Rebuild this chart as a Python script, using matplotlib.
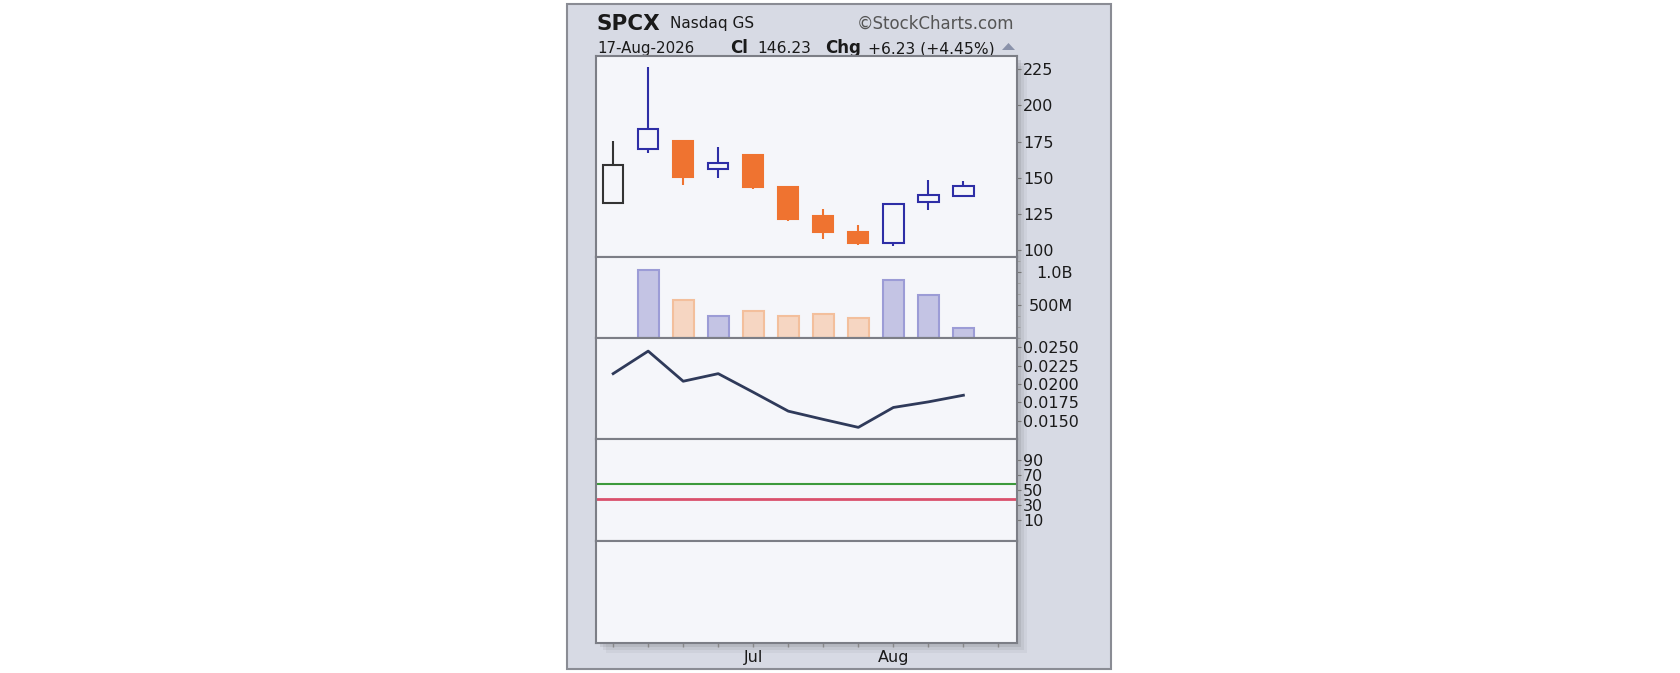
import numpy as np
import matplotlib
matplotlib.use('Agg')
import matplotlib.pyplot as plt
from matplotlib.patches import Rectangle, Polygon
from matplotlib.ticker import FixedLocator, MultipleLocator

plt.rcParams['font.family'] = ['DejaVu Sans']

# weekly candles, week of 8-Jun-2026 .. 17-Aug-2026
week_labels = ['', '', '', '', 'Jul', '', '', '', 'Aug', '', '', '']
opens = [132.8, 169.7, 175.6, 156.0, 165.5, 143.4, 123.5, 112.3, 104.7, 133.0, 137.4]
closes = [158.8, 183.7, 150.7, 160.4, 143.8, 121.5, 112.7, 105.1, 131.8, 138.1, 144.3]
highs = [175.6, 226.4, 175.6, 171.5, 166.4, 143.6, 128.4, 117.5, 131.8, 148.4, 148.0]
lows = [132.8, 166.9, 145.0, 149.6, 142.0, 120.1, 107.6, 103.7, 102.8, 127.7, 137.4]
volumes = [0, 1.03e9, 576e6, 333e6, 414e6, 333e6, 359e6, 308e6, 874e6, 652e6, 147e6]
line_vals = [0.0214, 0.02446, 0.02037, 0.0214, 0.01888, 0.01631, 0.01519,
             0.01411, 0.01681, 0.01757, 0.01847]
upper_level = 57.6
lower_level = 38.0

W, H = 1680, 673
fig = plt.figure(figsize=(W / 100, H / 100), dpi=100)
fig.patch.set_facecolor('white')

BLUE = '#2e2ea6'
ORANGE = '#ef7330'
PANEL_BG = '#f5f6fa'
EDGE = '#7c7e86'
TXT = '#1a1a1a'

# background / frame
bg = fig.add_axes([0, 0, 1, 1])
bg.set_xlim(0, W)
bg.set_ylim(H, 0)
bg.axis('off')
bg.add_patch(Rectangle((566.5, 4), 544, 664.5, facecolor='#d7dae4',
                       edgecolor='#8a8c94', lw=1.5))
for off, a in [(10, 0.04), (7, 0.05), (4, 0.07)]:
    bg.add_patch(Rectangle((596 + off, 56 + off), 421, 587, facecolor='black',
                           edgecolor='none', alpha=a))

bg.text(597, 29.5, 'SPCX', fontsize=15.5, fontweight='bold', color=TXT)
bg.text(670, 28, 'Nasdaq GS', fontsize=11, color=TXT)
bg.text(857, 28.5, '\u00a9StockCharts.com', fontsize=12, color='#555555')
bg.text(597, 53, '17-Aug-2026', fontsize=10.8, color=TXT)
bg.text(730, 53, 'Cl', fontsize=12, fontweight='bold', color=TXT)
bg.text(757, 53, '146.23', fontsize=11.2, color=TXT)
bg.text(825, 53, 'Chg', fontsize=12, fontweight='bold', color=TXT)
bg.text(868, 53, '+6.23 (+4.45%)', fontsize=11.2, color=TXT)
bg.add_patch(Polygon([(1002, 50), (1015, 50), (1008.5, 43)], closed=True,
                     facecolor='#8a92aa', edgecolor='none'))


def px_axes(x0, y0, x1, y1):
    ax = fig.add_axes([x0 / W, 1 - y1 / H, (x1 - x0) / W, (y1 - y0) / H])
    ax.set_facecolor(PANEL_BG)
    for s in ax.spines.values():
        s.set_color(EDGE)
        s.set_linewidth(1.5)
    ax.set_xlim(-0.49, 11.53)
    ax.yaxis.tick_right()
    ax.tick_params(axis='y', direction='out', length=3, width=0.8, color='#777777',
                   labelsize=11.5, labelcolor=TXT, pad=1.5)
    ax.tick_params(axis='x', bottom=False, labelbottom=False)
    return ax


x = np.arange(len(opens))

# price panel
ax1 = px_axes(596, 56, 1017, 257)
ax1.set_ylim(95.2, 234.2)
ax1.set_yticks([100, 125, 150, 175, 200, 225])
for i in x:
    o, c, hi, lo = opens[i], closes[i], highs[i], lows[i]
    if i == 0:
        col = '#333333'
    elif c >= closes[i - 1]:
        col = BLUE
    else:
        col = ORANGE
    filled = c < o
    b0, b1 = min(o, c), max(o, c)
    ax1.vlines(i, b1, hi, color=col, lw=1.5)
    ax1.vlines(i, lo, b0, color=col, lw=1.5)
    ax1.bar(i, b1 - b0, bottom=b0, width=0.58,
            facecolor=col if filled else PANEL_BG, edgecolor=col, lw=1.5, zorder=3)

# volume panel
ax2 = px_axes(596, 257, 1017, 338)
ax2.set_ylim(0, 1.227e9)
ax2.yaxis.set_major_locator(FixedLocator([500e6, 1e9]))
ax2.set_yticklabels(['500M', '1.0B'])
ax2.yaxis.set_minor_locator(MultipleLocator(500e6 / 3))
ax2.tick_params(axis='y', which='minor', direction='out', length=2, color='#999999')
ax2.tick_params(axis='y', pad=37)
for lab in ax2.get_yticklabels():
    lab.set_horizontalalignment('right')
for i in x:
    if volumes[i] <= 0:
        continue
    up = closes[i] >= closes[i - 1]
    ax2.bar(i, volumes[i], width=0.6,
            facecolor='#c4c4e4' if up else '#f6d6c2',
            edgecolor='#9c9cd6' if up else '#f3bf9c', lw=1.5)

# line panel
ax3 = px_axes(596, 338, 1017, 439)
ax3.set_ylim(0.01253, 0.02624)
ax3.set_yticks([0.015, 0.0175, 0.02, 0.0225, 0.025])
ax3.set_yticklabels(['%.4f' % v for v in [0.015, 0.0175, 0.02, 0.0225, 0.025]])
ax3.plot(x, line_vals, color='#2f3a5a', lw=2)

# oscillator panel
ax4 = px_axes(596, 439, 1017, 541)
ax4.set_ylim(-18, 118)
ax4.set_yticks([10, 30, 50, 70, 90])
ax4.axhline(upper_level, color='#3c9a3c', lw=1.5)
ax4.axhline(lower_level, color='#d9506c', lw=2)

# empty bottom panel with date axis
ax5 = px_axes(596, 541, 1017, 643)
ax5.set_yticks([])
ax5.set_xticks(np.arange(len(week_labels)))
ax5.set_xticklabels(week_labels)
ax5.tick_params(axis='x', bottom=True, labelbottom=True, direction='out', length=3,
                width=1, color='#888888', labelsize=11.5, labelcolor=TXT, pad=2)

fig.savefig('out.png', dpi=100, facecolor='white')
